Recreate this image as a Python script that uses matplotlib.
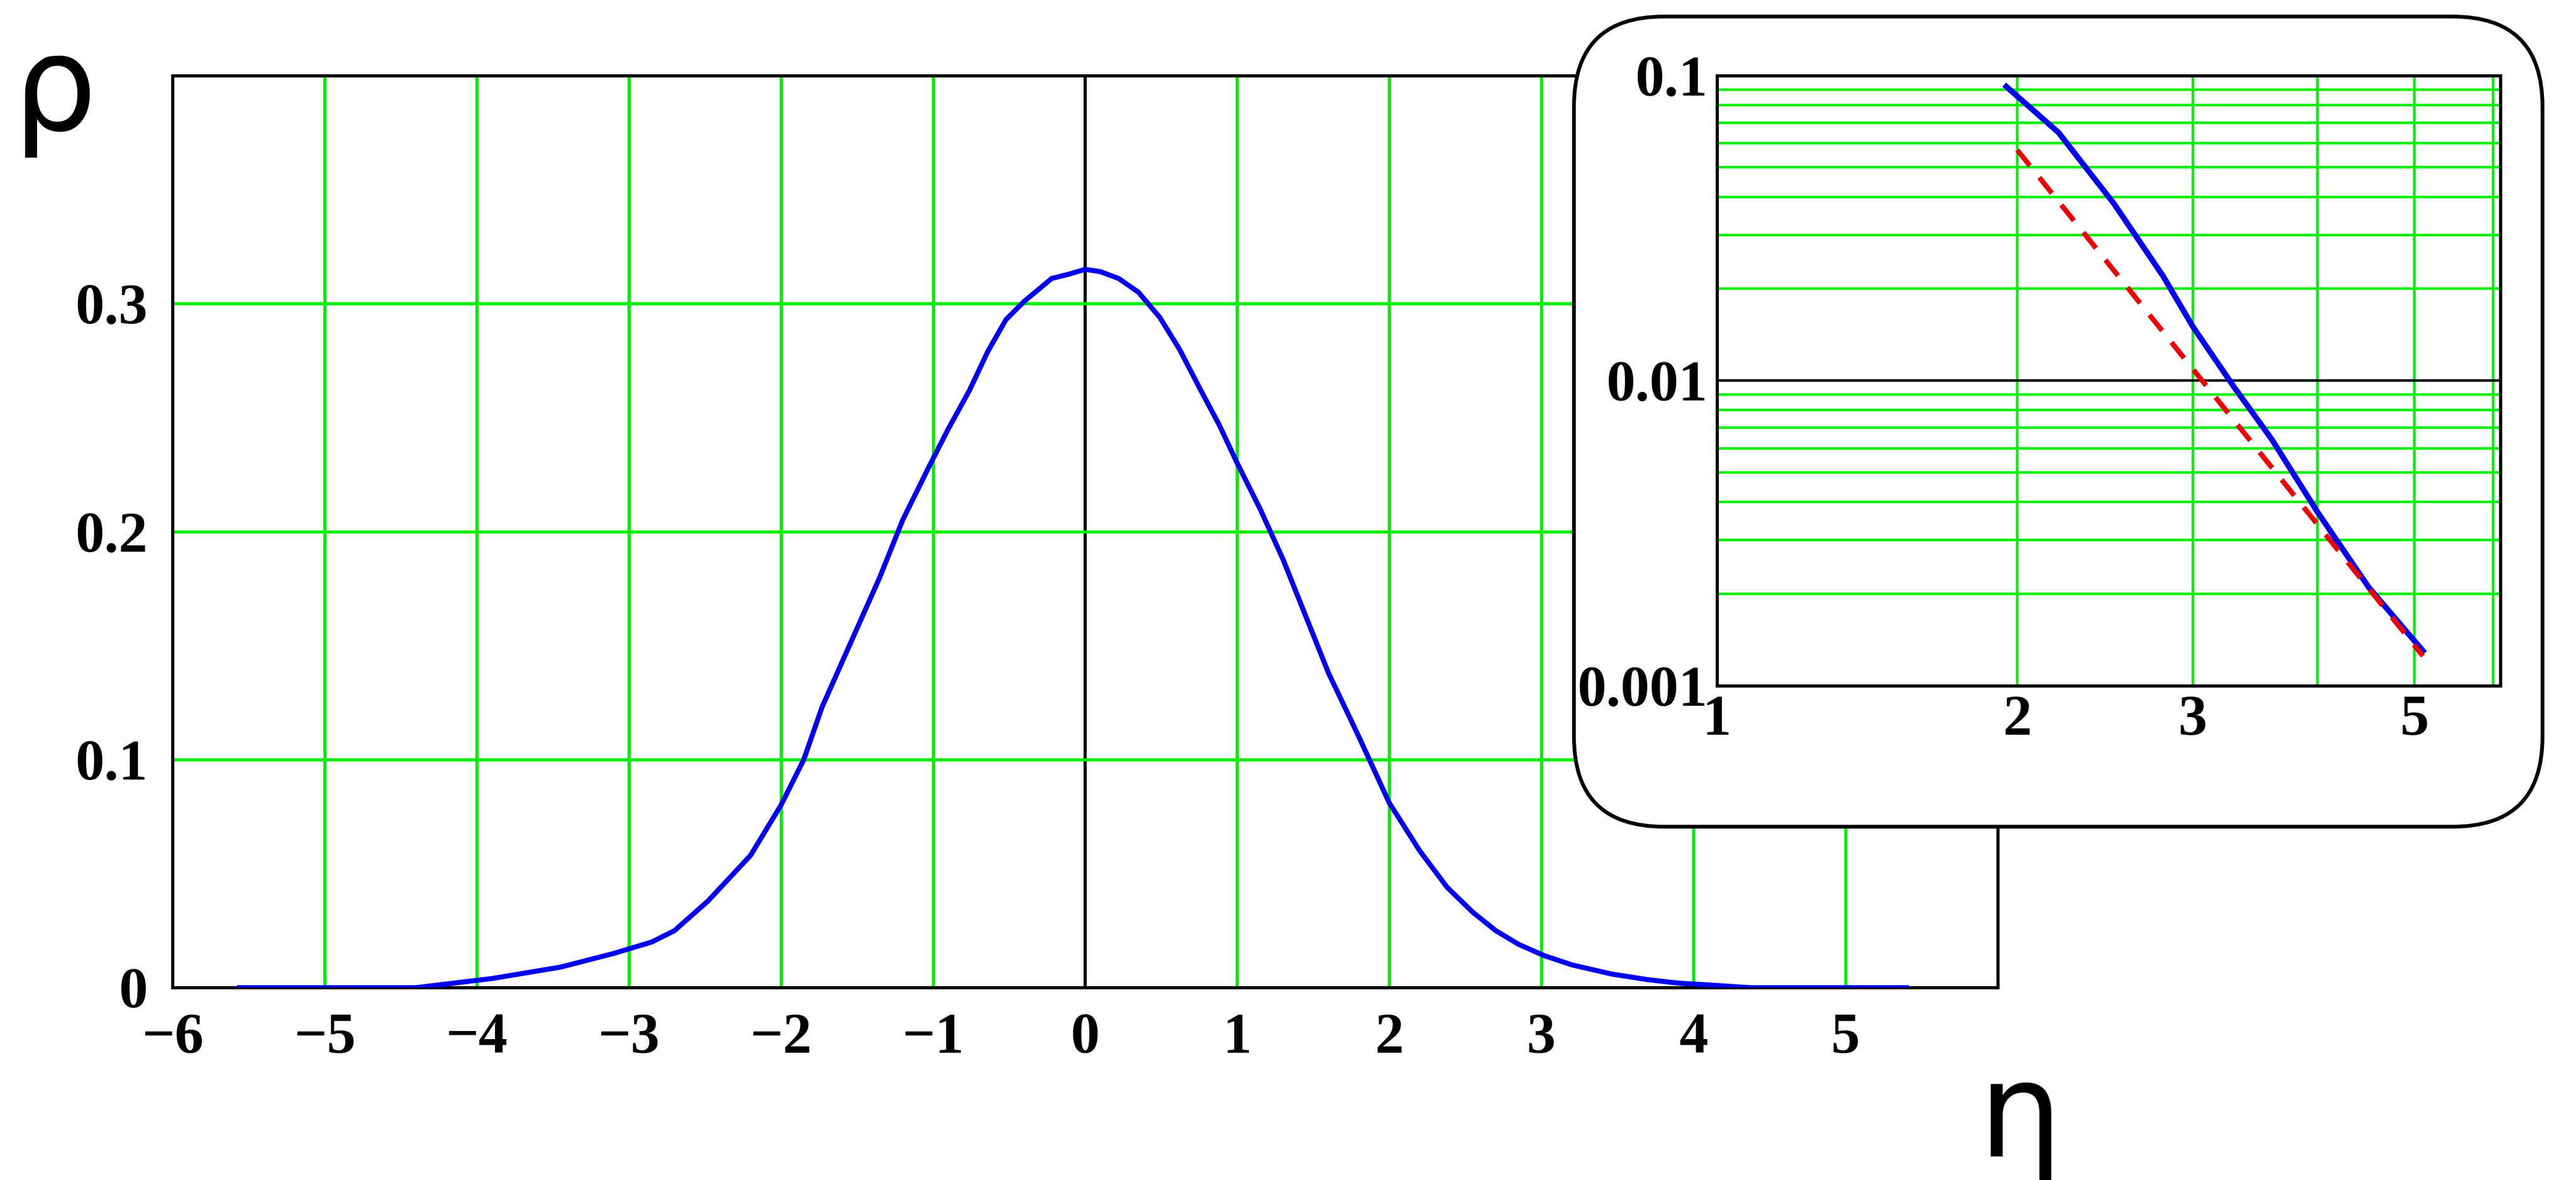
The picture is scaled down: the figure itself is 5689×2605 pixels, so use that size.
import matplotlib
matplotlib.use("Agg")
import matplotlib.pyplot as plt
from matplotlib.patches import FancyBboxPatch
from matplotlib.ticker import FixedLocator, NullFormatter

eta = [-5.56,-4.4,-3.9,-3.45,-3.1,-2.85,-2.7,-2.48,-2.2,-2.0,-1.85,-1.73,-1.55,-1.35,-1.2,-1.03,-0.9,-0.76,-0.64,-0.52,-0.4,-0.22,-0.1,0.0,0.1,0.22,0.35,0.49,0.62,0.76,0.88,1.0,1.15,1.3,1.45,1.6,1.8,2.0,2.2,2.38,2.55,2.7,2.85,3.02,3.2,3.46,3.7,3.9,4.1,4.37,5.4]
rho = [0,0,0.004,0.009,0.015,0.020,0.025,0.038,0.058,0.08,0.1,0.123,0.15,0.18,0.205,0.228,0.245,0.262,0.279,0.293,0.301,0.311,0.313,0.315,0.314,0.311,0.305,0.294,0.28,0.262,0.247,0.23,0.21,0.188,0.163,0.138,0.11,0.081,0.06,0.044,0.033,0.025,0.019,0.014,0.010,0.006,0.0035,0.002,0.0012,0,0]

tail_eta = [1.95,2.2,2.5,2.8,3.0,3.3,3.6,4.0,4.5,5.1]
tail_rho = [0.092,0.065,0.038,0.022,0.015,0.0095,0.0064,0.0037,0.0021,0.0013]
fit_eta = [2.0,5.1]
fit_rho = [0.057,0.00125]

xticks = [-6,-5,-4,-3,-2,-1,0,1,2,3,4,5]
yticks = [0,0.1,0.2,0.3]

GREEN = '#00ee00'
W, H = 5689, 2605
fig = plt.figure(figsize=(W/100, H/100), dpi=100)
tfont = dict(family='Liberation Serif', weight='bold', size=92)

ax = fig.add_axes([0.067, 0.163, 0.7085, 0.773])
ax.set_xlim(-6, 6); ax.set_ylim(0, 0.4)
for x in range(-5, 6):
    ax.axvline(x, color='black' if x == 0 else GREEN, lw=5, zorder=1)
for y in [0.1, 0.2, 0.3]:
    ax.axhline(y, color=GREEN, lw=5, zorder=1)
ax.plot(eta, rho, color='#0000ee', lw=8, zorder=3)
ax.set_xticks(xticks); ax.set_yticks(yticks)
ax.set_xticklabels(['\u2212%d' % -v if v < 0 else '%d' % v for v in xticks], **tfont)
ax.set_yticklabels(['0', '0.1', '0.2', '0.3'], **tfont)
ax.tick_params(length=0, pad=40)
for s in ax.spines.values():
    s.set_linewidth(5)
fig.text(0.005, 0.89, 'ρ', fontsize=210, family='DejaVu Sans')
fig.text(0.768, 0.02, 'η', fontsize=210, family='DejaVu Sans')

box = FancyBboxPatch((0.611, 0.2994), 0.376, 0.6866, boxstyle='round,pad=0,rounding_size=0.035',
                     transform=fig.transFigure, facecolor='white', edgecolor='black', lw=6,
                     mutation_aspect=W/H, zorder=5)
fig.patches.append(box)

ai = fig.add_axes([0.6665, 0.419, 0.3042, 0.517], zorder=10)
ai.set_xscale('log'); ai.set_yscale('log')
ai.set_xlim(1, 6.1); ai.set_ylim(0.001, 0.1)
for x in [2, 3, 4, 5, 6]:
    ai.axvline(x, color=GREEN, lw=4, zorder=1)
for d in [0.001, 0.01]:
    for k in range(2, 10):
        ai.axhline(d*k, color=GREEN, lw=4, zorder=1)
ai.axhline(0.01, color='black', lw=4, zorder=2)
ai.plot(tail_eta, tail_rho, color='#0000ee', lw=9, zorder=3)
ai.plot(fit_eta, fit_rho, color='#ee0000', lw=8, ls=(0, (4, 3)), zorder=4)
ai.xaxis.set_major_locator(FixedLocator([1, 2, 3, 5]))
ai.xaxis.set_minor_formatter(NullFormatter())
ai.set_xticklabels(['1', '2', '3', '5'], **tfont)
ai.yaxis.set_major_locator(FixedLocator([0.001, 0.01, 0.1]))
ai.yaxis.set_minor_formatter(NullFormatter())
ai.set_yticklabels(['0.001', '0.01', '0.1'], **tfont)
ai.tick_params(which='both', length=0, pad=15)
for s in ai.spines.values():
    s.set_linewidth(5)

fig.savefig('out.png', dpi=100)
